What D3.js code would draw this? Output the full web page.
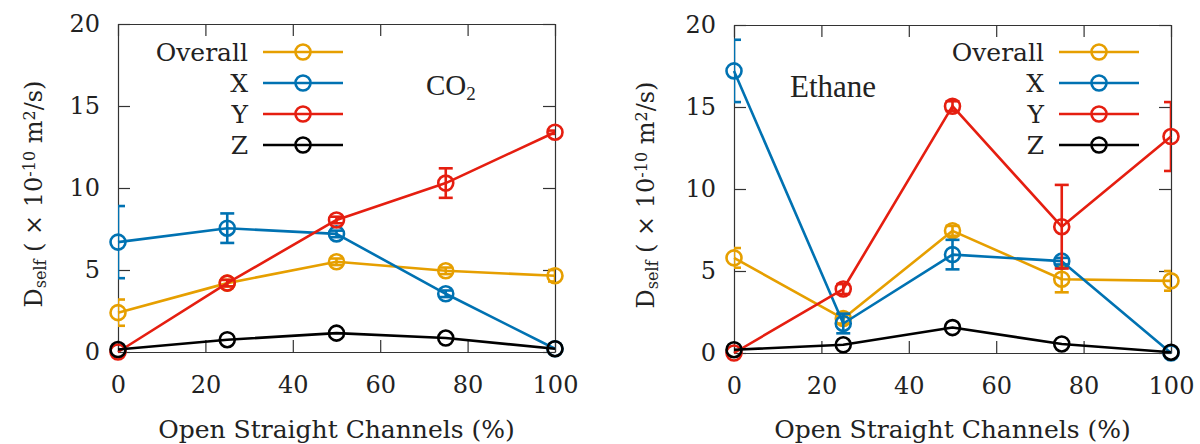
<!DOCTYPE html>
<html>
<head>
<meta charset="utf-8">
<script src="https://cdn.jsdelivr.net/npm/d3@7"></script>
<style>
  html, body { margin: 0; padding: 0; background: #fff; }
  svg { display: block; }
  text { font-family: "DejaVu Serif", serif; fill: #222; }
</style>
</head>
<body>
<svg id="chart" width="1200" height="444"></svg>
<script>
// Channel openness (%) on the x axis
const channels = [0, 25, 50, 75, 100];
const seriesNames = ["Overall", "X", "Y", "Z"];
const seriesColors = ["#e69f00", "#0072b2", "#e51e10", "#000000"];

// CO2 self-diffusivity (×10^-10 m²/s) and standard errors
const co2Overall = [2.4, 4.2, 5.5, 4.95, 4.65];
const co2OverallErr = [0.8, 0.2, 0.2, 0.2, 0.35];
const co2X = [6.7, 7.55, 7.2, 3.55, 0.2];
const co2XErr = [2.2, 0.9, 0.2, 0.2, 0.0];
const co2Y = [0.0, 4.2, 8.05, 10.3, 13.4];
const co2YErr = [0.0, 0.2, 0.2, 0.9, 0.1];
const co2Z = [0.15, 0.75, 1.15, 0.85, 0.2];
const co2ZErr = [0, 0, 0, 0, 0];

// Ethane self-diffusivity (×10^-10 m²/s) and standard errors
const ethOverall = [5.8, 2.1, 7.45, 4.5, 4.4];
const ethOverallErr = [0.6, 0.3, 0.3, 0.8, 0.6];
const ethX = [17.2, 1.8, 6.0, 5.6, 0.0];
const ethXErr = [1.9, 0.6, 0.9, 0.2, 0.0];
const ethY = [0.0, 3.9, 15.05, 7.7, 13.2];
const ethYErr = [0.0, 0.3, 0.3, 2.55, 2.1];
const ethZ = [0.2, 0.5, 1.55, 0.55, 0.05];
const ethZErr = [0, 0, 0, 0, 0];

const xTicks = [0, 20, 40, 60, 80, 100];
const yTicks = [0, 5, 10, 15, 20];

const panels = [
  { id: "co2", box: { x0: 118, x1: 555, y0: 24, y1: 352 },
    series: [[co2Overall, co2OverallErr], [co2X, co2XErr], [co2Y, co2YErr], [co2Z, co2ZErr]],
    legend: { textX: 248, lineX0: 263, lineX1: 343, y0: 52, dy: 31 },
    yTitleX: 34 },
  { id: "eth", box: { x0: 734, x1: 1171, y0: 25, y1: 353 },
    series: [[ethOverall, ethOverallErr], [ethX, ethXErr], [ethY, ethYErr], [ethZ, ethZErr]],
    legend: { textX: 1044, lineX0: 1059, lineX1: 1139, y0: 52, dy: 31 },
    yTitleX: 646 }
];

const svg = d3.select("#chart");

panels.forEach((p, pi) => {
  const b = p.box;
  const x = d3.scaleLinear().domain([0, 100]).range([b.x0, b.x1]);
  const y = d3.scaleLinear().domain([0, 20]).range([b.y1, b.y0]);
  const g = svg.append("g");

  g.append("clipPath").attr("id", "clip-" + p.id)
    .append("rect").attr("x", b.x0).attr("y", b.y0)
    .attr("width", b.x1 - b.x0).attr("height", b.y1 - b.y0);

  // Axes with inward ticks, mirrored on opposite sides
  const tickLen = 12;
  const axisStyle = sel => {
    sel.select(".domain").attr("stroke", "#333").attr("stroke-width", 1.2);
    sel.selectAll(".tick line").attr("stroke", "#333").attr("stroke-width", 1.2);
    sel.selectAll(".tick text").style("font-size", "24px").attr("fill", "#222");
  };
  g.append("g").attr("transform", `translate(0,${b.y1})`)
    .call(d3.axisBottom(x).tickValues(xTicks).tickSizeInner(-tickLen).tickSizeOuter(0).tickPadding(24))
    .call(axisStyle);
  g.append("g").attr("transform", `translate(0,${b.y0})`)
    .call(d3.axisTop(x).tickValues(xTicks).tickSizeInner(-tickLen).tickSizeOuter(0).tickFormat(""))
    .call(axisStyle);
  g.append("g").attr("transform", `translate(${b.x0},0)`)
    .call(d3.axisLeft(y).tickValues(yTicks).tickSizeInner(-tickLen).tickSizeOuter(0).tickPadding(18))
    .call(axisStyle);
  g.append("g").attr("transform", `translate(${b.x1},0)`)
    .call(d3.axisRight(y).tickValues(yTicks).tickSizeInner(-tickLen).tickSizeOuter(0).tickFormat(""))
    .call(axisStyle);

  // Axis titles
  g.append("text")
    .attr("x", (b.x0 + b.x1) / 2).attr("y", 438)
    .attr("text-anchor", "middle").style("font-size", "25px")
    .text("Open Straight Channels (%)");

  const yt = g.append("text")
    .attr("transform", `translate(${p.yTitleX},${(b.y0 + b.y1) / 2 + 6}) rotate(-90)`)
    .attr("text-anchor", "middle").attr("dy", "0.35em").style("font-size", "24px");
  yt.append("tspan").text("D");
  yt.append("tspan").attr("baseline-shift", "-25%").style("font-size", "16px").text("self");
  yt.append("tspan").text(" ( × 10");
  yt.append("tspan").attr("baseline-shift", "45%").style("font-size", "16px").text("-10");
  yt.append("tspan").text(" m");
  yt.append("tspan").attr("baseline-shift", "45%").style("font-size", "16px").text("2");
  yt.append("tspan").text("/s)");

  // Gas label
  if (p.id === "co2") {
    const t = g.append("text").attr("x", 426).attr("y", 95)
      .style("font-family", "'Liberation Serif', serif").style("font-size", "29px");
    t.append("tspan").text("CO");
    t.append("tspan").attr("baseline-shift", "-25%").style("font-size", "19px").text("2");
  } else {
    g.append("text").attr("x", 790).attr("y", 97)
      .style("font-family", "'Liberation Serif', serif").style("font-size", "31px")
      .text("Ethane");
  }

  // Series: lines, error bars, open circle markers
  const line = d3.line().x((d, i) => x(channels[i])).y(d => y(d));
  p.series.forEach(([vals, errs], si) => {
    const color = seriesColors[si];
    const sg = g.append("g");
    sg.append("path").datum(vals).attr("d", line)
      .attr("fill", "none").attr("stroke", color).attr("stroke-width", 2.6)
      .attr("stroke-linejoin", "round");

    const eg = sg.append("g").attr("clip-path", `url(#clip-${p.id})`);
    vals.forEach((v, i) => {
      const e = errs[i];
      if (e <= 0) return;
      const cx = x(channels[i]);
      const yt = y(v + e), yb = y(v - e);
      const cap = 7;
      eg.append("line").attr("x1", cx).attr("x2", cx).attr("y1", yt).attr("y2", yb)
        .attr("stroke", color).attr("stroke-width", 2.6);
      [yt, yb].forEach(yy => eg.append("line")
        .attr("x1", cx - cap).attr("x2", cx + cap).attr("y1", yy).attr("y2", yy)
        .attr("stroke", color).attr("stroke-width", 2.6));
    });

    sg.selectAll("circle").data(vals).join("circle")
      .attr("cx", (d, i) => x(channels[i])).attr("cy", d => y(d)).attr("r", 7.5)
      .attr("fill", "none").attr("stroke", color).attr("stroke-width", 2.6);
  });

  // Legend
  const L = p.legend;
  seriesNames.forEach((name, si) => {
    const yy = L.y0 + si * L.dy;
    g.append("text").attr("x", L.textX).attr("y", yy).attr("dy", "0.35em")
      .attr("text-anchor", "end").style("font-size", "25px").text(name);
    g.append("line").attr("x1", L.lineX0).attr("x2", L.lineX1).attr("y1", yy).attr("y2", yy)
      .attr("stroke", seriesColors[si]).attr("stroke-width", 2.6);
    g.append("circle").attr("cx", (L.lineX0 + L.lineX1) / 2).attr("cy", yy).attr("r", 7.5)
      .attr("fill", "none").attr("stroke", seriesColors[si]).attr("stroke-width", 2.6);
  });
});
</script>
</body>
</html>
